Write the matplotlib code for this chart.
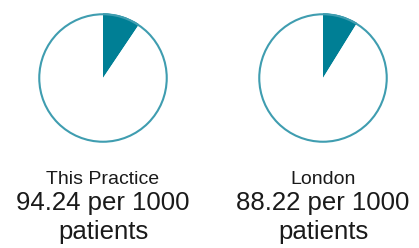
import matplotlib.pyplot as plt
from matplotlib.patches import Circle

# ── Data ──────────────────────────────────────────────────────────────────────
labels = ["This Practice", "London"]
rates = [94.24, 88.22]          # per 1000 patients
per = 1000

W, H = 419, 248
fill_color = "#007f95"
ring_color = "#3f9db0"

plt.rcParams["font.family"] = ["Liberation Sans", "DejaVu Sans"]

fig = plt.figure(figsize=(W / 100, H / 100), dpi=100)

centers_x = [103, 323]
cy, r = 78, 66

for cx, label, rate in zip(centers_x, labels, rates):
    ax = fig.add_axes([(cx - r) / W, (H - cy - r) / H, 2 * r / W, 2 * r / H])
    ax.pie([rate, per - rate], colors=[fill_color, "white"], startangle=90,
           counterclock=False, radius=1.0, wedgeprops=dict(linewidth=0))
    ax.add_patch(Circle((0, 0), 0.985, fill=False, edgecolor=ring_color, linewidth=1.5))
    ax.set_xlim(-1.02, 1.02)
    ax.set_ylim(-1.02, 1.02)
    ax.set_aspect("equal")
    ax.axis("off")

    fig.text(cx / W, 1 - 184 / H, label, ha="center", va="baseline",
             fontsize=14, color="#1a1a1a")
    fig.text(cx / W, 1 - 210 / H, f"{rate:.2f} per {per}", ha="center",
             va="baseline", fontsize=18.5, color="#1a1a1a")
    fig.text(cx / W, 1 - 239 / H, "patients", ha="center", va="baseline",
             fontsize=18.5, color="#1a1a1a")

fig.savefig("out.png", dpi=100)
